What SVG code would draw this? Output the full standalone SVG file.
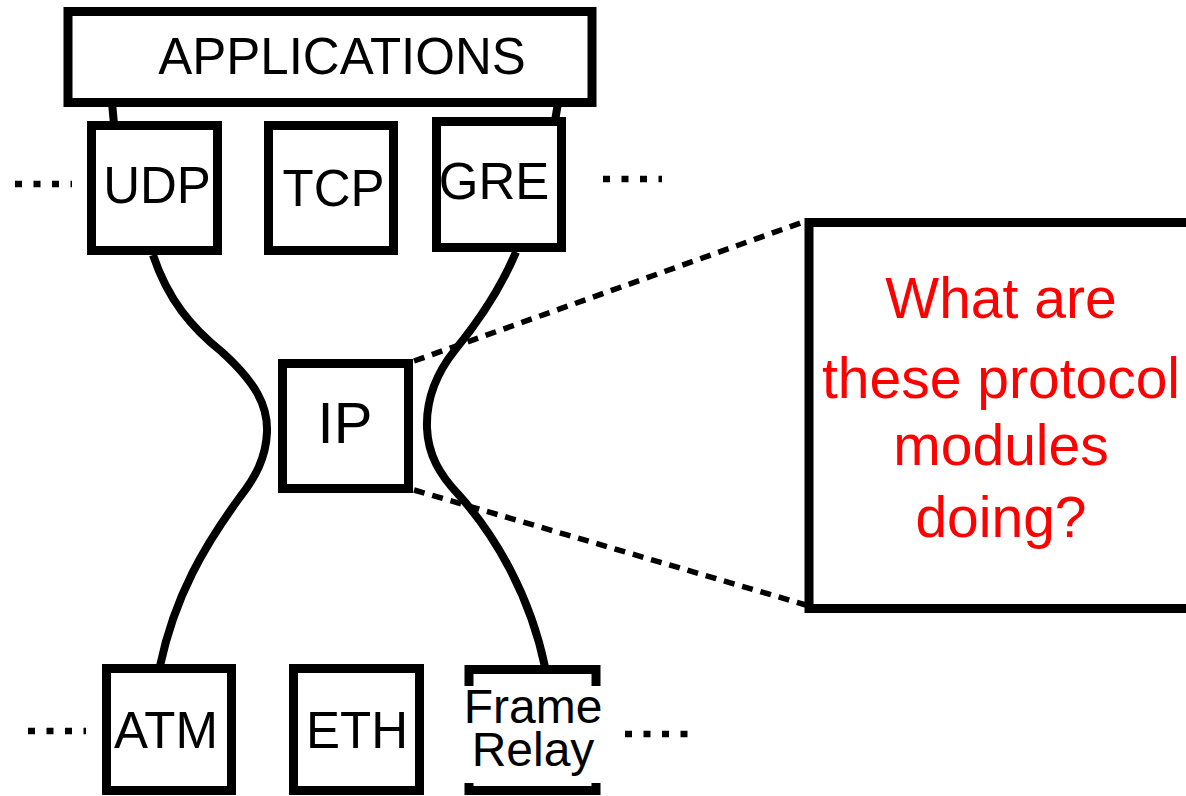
<svg xmlns="http://www.w3.org/2000/svg" width="1186" height="796" viewBox="0 0 1186 796">
  <style>
    .box { fill: #fff; stroke: #000; stroke-width: 9; }
    .lbl { font-family: "Liberation Sans", Arial, sans-serif; font-size: 51px; fill: #000; text-anchor: middle; }
    .wire { fill: none; stroke: #000; stroke-width: 8; }
    .ellipsis { fill: none; stroke: #000; stroke-width: 6.5; stroke-dasharray: 7 11.5; }
    .zoomline { fill: none; stroke: #000; stroke-width: 5.5; stroke-dasharray: 11 8; }
    .question { font-family: "Liberation Sans", Arial, sans-serif; font-size: 57px; fill: #ff0000; text-anchor: middle; }
  </style>

  <rect width="1186" height="796" fill="#fff"/>

  <!-- connectors -->
  <g id="connectors">
    <line class="wire" x1="112" y1="103" x2="114" y2="124"/>
    <line class="wire" x1="558" y1="103" x2="555" y2="121"/>
    <path class="wire" d="M153,255 C168,300 192,328 222,352 C255,382 268,405 267,432 C266,458 255,478 240,497 C205,545 175,595 160,666"/>
    <path class="wire" d="M516,252 C500,290 478,322 455,350 C435,375 426,400 427,428 C428,455 440,475 458,494 C495,535 530,595 545,667"/>
    <line class="zoomline" x1="414" y1="361" x2="806" y2="221"/>
    <line class="zoomline" x1="414" y1="490" x2="806" y2="605"/>
    <line class="ellipsis" x1="15" y1="184" x2="72" y2="184"/>
    <line class="ellipsis" x1="603" y1="179" x2="662" y2="179"/>
    <line class="ellipsis" x1="28" y1="731" x2="86" y2="731"/>
    <line class="ellipsis" x1="625" y1="734" x2="688" y2="734"/>
  </g>

  <g id="applications">
    <rect class="box" x="68" y="11.5" width="524" height="91"/>
    <text class="lbl" x="342" y="74">APPLICATIONS</text>
  </g>

  <g id="udp">
    <rect class="box" x="91.5" y="125.5" width="126" height="125"/>
    <text class="lbl" x="157" y="203">UDP</text>
  </g>

  <g id="tcp">
    <rect class="box" x="268.5" y="125.5" width="125" height="125"/>
    <text class="lbl" x="333.5" y="206">TCP</text>
  </g>

  <g id="gre">
    <rect class="box" x="436.5" y="121.5" width="125" height="126"/>
    <text class="lbl" x="494" y="199">GRE</text>
  </g>

  <g id="ip">
    <rect class="box" x="282.5" y="363.5" width="126" height="125"/>
    <text class="lbl" x="345" y="443" style="font-size:58px">IP</text>
  </g>

  <g id="atm">
    <rect class="box" x="106.5" y="668.5" width="125" height="122"/>
    <text class="lbl" x="166" y="748">ATM</text>
  </g>

  <g id="eth">
    <rect class="box" x="293.5" y="668.5" width="126" height="122"/>
    <text class="lbl" x="357" y="748">ETH</text>
  </g>

  <g id="frame-relay">
    <rect class="box" x="469" y="669.5" width="127" height="121"/>
    <rect x="452" y="686" width="160" height="97" fill="#fff"/>
    <text class="lbl" x="533" y="723" style="font-size:48px">Frame</text>
    <text class="lbl" x="533" y="766" style="font-size:48px">Relay</text>
  </g>

  <g id="question">
    <rect class="box" x="809" y="222.5" width="400" height="386"/>
    <text class="question" x="1001" y="318">What are</text>
    <text class="question" x="1001" y="398">these protocol</text>
    <text class="question" x="1001" y="465">modules</text>
    <text class="question" x="1001" y="537">doing?</text>
  </g>
</svg>
